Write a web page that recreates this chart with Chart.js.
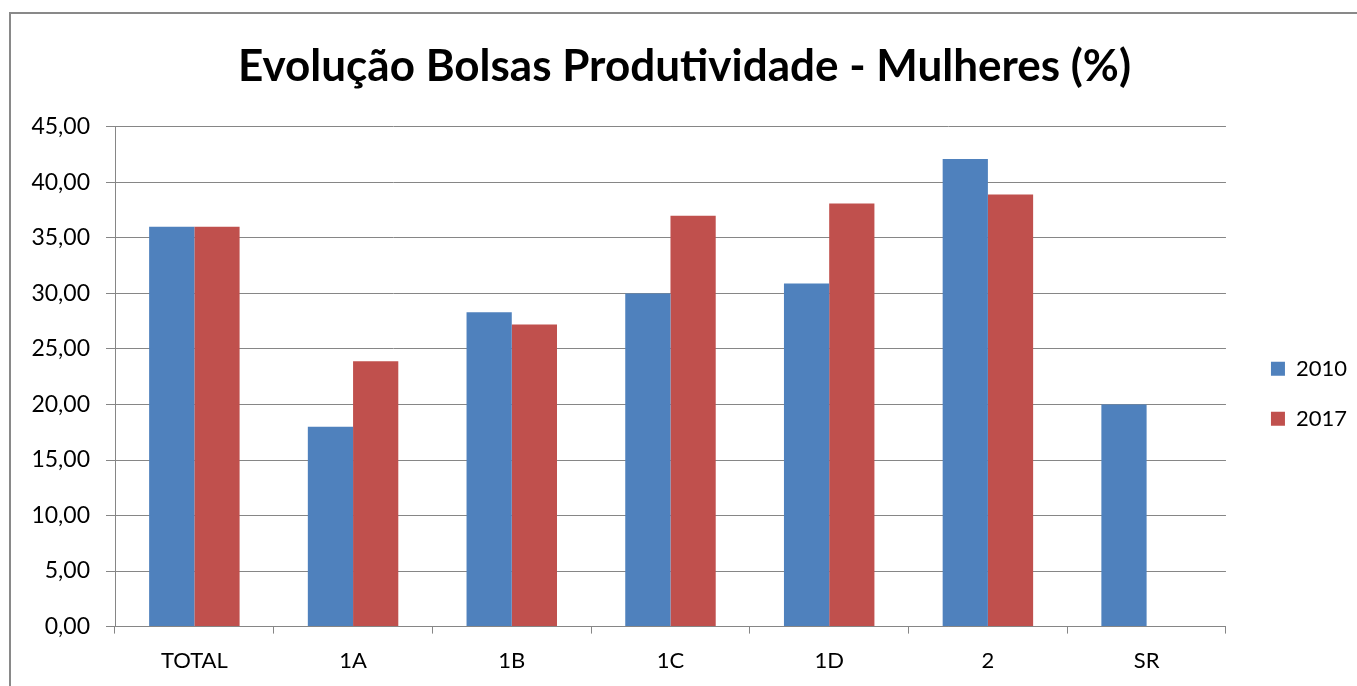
<!DOCTYPE html>
<html>
<head>
<meta charset="utf-8">
<script src="https://cdn.jsdelivr.net/npm/chart.js@4.4.0/dist/chart.umd.min.js"></script>
<style>
  html, body { margin: 0; padding: 0; background: #fff; overflow: hidden; }
  #frame {
    position: absolute; left: 9px; top: 12px; width: 1348px; height: 674px;
    border-left: 2px solid #898989; border-top: 2px solid #898989;
  }
  #wrap { position: absolute; left: 1px; top: 0; width: 1347px; height: 674px; }
</style>
</head>
<body>
<div id="frame"><div id="wrap"><canvas id="chart"></canvas></div></div>
<script>
// Categories and values
const categories = ['TOTAL', '1A', '1B', '1C', '1D', '2', 'SR'];
const values2010 = [36.0, 18.0, 28.3, 30.0, 30.9, 42.1, 20.0];
const values2017 = [36.0, 23.9, 27.2, 37.0, 38.1, 38.9, null];
const yTicks = [0, 5, 10, 15, 20, 25, 30, 35, 40, 45];

const gridColor = '#868686';
const fontName = 'Lato, "Open Sans", sans-serif';

document.addEventListener('DOMContentLoaded', function() {
  const ctx = document.getElementById('chart').getContext('2d');
  new Chart(ctx, {
    type: 'bar',
    data: {
      labels: categories,
      datasets: [
        { label: '2010', data: values2010, backgroundColor: '#4F81BD' },
        { label: '2017', data: values2017, backgroundColor: '#C0504D' }
      ]
    },
    options: {
      responsive: true,
      maintainAspectRatio: false,
      animation: false,
      datasets: { bar: { categoryPercentage: 0.57, barPercentage: 1.0 } },
      layout: { padding: { left: 0, right: 2, top: 0, bottom: 0 } },
      plugins: {
        title: {
          display: true,
          text: 'Evolução Bolsas Produtividade - Mulheres (%)',
          color: '#000',
          font: { family: fontName, size: 44, weight: 'bold' },
          padding: { top: 26, bottom: 34 }
        },
        legend: {
          position: 'right',
          fullSize: false,
          // blank title only pushes the items down a bit
          title: { display: true, text: ' ', font: { size: 10 }, padding: { top: 22, bottom: 0 } },
          labels: {
            color: '#000',
            boxWidth: 14,
            boxHeight: 14,
            padding: 28,
            font: { family: fontName, size: 22 }
          }
        },
        tooltip: { enabled: false }
      },
      scales: {
        x: {
          grid: { drawOnChartArea: false, drawTicks: true, tickLength: 7, color: gridColor, offset: true },
          border: { color: gridColor, width: 1 },
          ticks: { color: '#000', font: { family: fontName, size: 22 }, padding: 14 }
        },
        y: {
          min: 0,
          max: 45,
          afterBuildTicks: function(scale) { scale.ticks = yTicks.map(v => ({ value: v })); },
          afterFit: function(scale) { scale.width = 103; },
          grid: { color: gridColor, tickLength: 9 },
          border: { color: gridColor, width: 1 },
          ticks: {
            color: '#000',
            font: { family: fontName, size: 23 },
            padding: 16,
            callback: v => v.toFixed(2).replace('.', ',')
          }
        },
        // empty axis on the right, only keeps a gap before the legend
        gap: {
          position: 'right',
          min: 0,
          max: 45,
          grid: { display: false },
          border: { display: false },
          ticks: { display: false },
          afterFit: function(scale) { scale.width = 17; }
        }
      }
    }
  });
});
</script>
</body>
</html>
